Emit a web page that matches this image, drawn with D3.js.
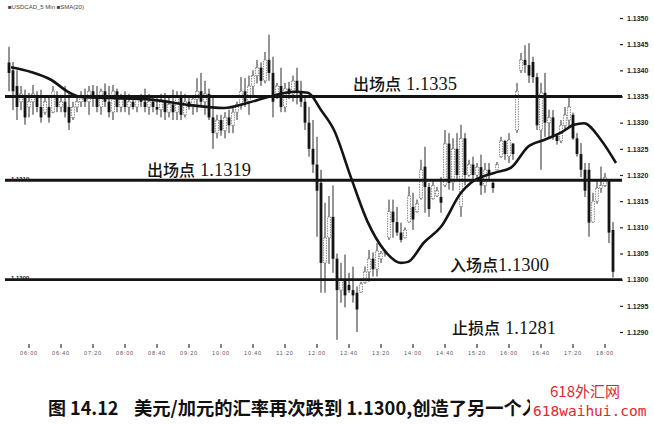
<!DOCTYPE html>
<html><head><meta charset="utf-8">
<script src="https://cdn.jsdelivr.net/npm/d3@7"></script>
<style>body{margin:0;background:#fff}svg{display:block}</style>
</head><body>
<svg id="c" width="654" height="424"></svg>
<script>
const opens=[1.13415,1.1340,1.1337,1.1334,1.1335,1.1333,1.1334,1.1335,1.1333,1.1332,1.1333,1.1332,1.1335,1.1333,1.1334,1.1333,1.1331,1.1333,1.1334,1.1335,
1.1334,1.1336,1.1335,1.1333,1.1336,1.1334,1.1332,1.1336,1.1333,1.13345,1.1333,1.1334,1.1333,1.13345,1.1334,1.1333,1.1334,1.1333,1.13325,1.1334,
1.1332,1.13335,1.1332,1.1335,1.13315,1.1334,1.1333,1.13345,1.1336,1.1334,1.13355,1.1331,1.1328,1.13305,1.13285,1.1331,1.13295,1.1332,1.13335,1.1336,
1.1334,1.1337,1.1339,1.13405,1.1338,1.1342,1.13395,1.1335,1.1337,1.1333,1.13365,1.13355,1.1338,1.1336,1.1334,1.1330,1.1325,1.1322,1.13185,1.13032,
1.1308,1.1312,1.1304,1.1298,1.1300,1.1299,1.1298,1.12975,1.12976,1.12995,1.13015,1.1304,1.1302,1.1304,1.1305,1.1308,1.1313,1.1311,1.1309,1.1308,
1.1311,1.13139,1.1313,1.13155,1.13216,1.13177,1.13155,1.1316,1.13158,1.1318,1.1326,1.13185,1.1325,1.1314,1.1327,1.1320,1.1322,1.1320,1.13215,1.1318,
1.1321,1.13185,1.1321,1.13235,1.13265,1.13235,1.1326,1.13285,1.1340,1.1342,1.1341,1.13416,1.13387,1.13286,1.13357,1.1330,1.1331,1.13275,1.13265,1.13295,
1.13305,1.13315,1.1327,1.1324,1.1321,1.1321,1.1311,1.1315,1.13175,1.1318,1.1319,1.13095];
const highs=[1.13445,1.13416,1.1340,1.1337,1.13363,1.13357,1.13372,1.1336,1.13363,1.13353,1.1335,1.1337,1.1336,1.1335,1.1337,1.13357,1.1334,1.1335,1.1336,1.13365,
1.1337,1.13372,1.1337,1.13365,1.13375,1.1337,1.13372,1.13365,1.13355,1.1336,1.13355,1.1335,1.1335,1.13355,1.13365,1.13355,1.1335,1.1335,1.13355,1.13357,
1.1335,1.13363,1.1336,1.1336,1.13355,1.1335,1.1335,1.13385,1.13395,1.1338,1.13365,1.1335,1.13315,1.13315,1.1332,1.13325,1.1333,1.1334,1.13387,1.13385,
1.1339,1.1340,1.1342,1.13415,1.13435,1.13468,1.13426,1.13376,1.13405,1.13376,1.13378,1.1339,1.13405,1.1338,1.1335,1.1333,1.13305,1.13273,1.1321,1.13147,
1.1316,1.1318,1.1305,1.13032,1.13048,1.13013,1.13025,1.12987,1.12996,1.13025,1.13057,1.13052,1.1307,1.13055,1.13057,1.13153,1.13153,1.13139,1.13109,1.1310,
1.13178,1.13166,1.13153,1.13229,1.13254,1.13185,1.1319,1.13177,1.13196,1.13286,1.1328,1.1327,1.1328,1.13296,1.1328,1.13229,1.13235,1.13223,1.13239,1.13223,
1.13223,1.13188,1.13225,1.13273,1.13267,1.1328,1.13261,1.13376,1.13433,1.13448,1.13452,1.13426,1.13395,1.13376,1.13395,1.13325,1.13324,1.1328,1.13305,1.1333,
1.1335,1.13319,1.1328,1.13261,1.13223,1.13223,1.13166,1.1319,1.13216,1.13204,1.13192,1.1311];
const lows=[1.1336,1.13324,1.13305,1.13324,1.13296,1.1331,1.13315,1.1332,1.1330,1.13315,1.1330,1.13318,1.1332,1.1332,1.1331,1.13286,1.13305,1.1332,1.1333,1.1333,
1.13315,1.1333,1.1332,1.13315,1.1333,1.1331,1.13305,1.1332,1.1332,1.1332,1.13315,1.13325,1.1332,1.1333,1.1332,1.13315,1.1332,1.13315,1.1331,1.13305,
1.1331,1.13305,1.13305,1.13305,1.1331,1.13325,1.13315,1.1332,1.1333,1.13315,1.13305,1.1325,1.1327,1.13275,1.1327,1.1328,1.1328,1.13305,1.13325,1.1333,
1.13315,1.1335,1.13375,1.1337,1.13375,1.1338,1.1331,1.13345,1.1332,1.1332,1.13345,1.1334,1.13335,1.1333,1.13286,1.13235,1.13204,1.13082,1.12975,1.12975,
1.1303,1.13013,1.12885,1.12956,1.12947,1.12975,1.12956,1.1290,1.12975,1.12992,1.12996,1.13006,1.13006,1.13032,1.13044,1.13076,1.1308,1.13084,1.13071,1.13079,
1.13109,1.13095,1.13128,1.13153,1.13128,1.1312,1.13153,1.13158,1.13128,1.13177,1.13172,1.1317,1.1319,1.1312,1.1318,1.13197,1.1319,1.1319,1.13162,1.13166,
1.1319,1.13166,1.13209,1.13233,1.13229,1.13223,1.13229,1.1328,1.13395,1.13395,1.13376,1.13376,1.13286,1.1321,1.13273,1.1327,1.13267,1.13258,1.13261,1.13286,
1.13292,1.13267,1.13235,1.13196,1.13158,1.13082,1.13109,1.13145,1.13166,1.13177,1.1307,1.13004];
const closes=[1.13395,1.1336,1.1333,1.13355,1.1331,1.1334,1.13355,1.1333,1.1331,1.1334,1.1331,1.1336,1.1333,1.1334,1.1332,1.1330,1.1333,1.1334,1.1335,1.1334,
1.1336,1.1335,1.1333,1.1336,1.1334,1.1332,1.1336,1.1333,1.13345,1.1333,1.1334,1.1333,1.13345,1.1334,1.1333,1.1334,1.1333,1.13325,1.1334,1.1332,
1.13335,1.1332,1.1335,1.13315,1.1334,1.1333,1.13345,1.1336,1.1334,1.13355,1.1331,1.1328,1.13305,1.13285,1.1331,1.13295,1.1332,1.13335,1.1336,1.1334,
1.1337,1.1339,1.13405,1.1338,1.1342,1.13395,1.1334,1.1337,1.1333,1.13365,1.13355,1.1338,1.1336,1.1334,1.1330,1.1325,1.1322,1.1317,1.13032,1.1308,
1.1312,1.1304,1.1298,1.1300,1.1297,1.1298,1.1297,1.12943,1.12992,1.13015,1.1304,1.1302,1.13055,1.1305,1.13052,1.1313,1.1311,1.1309,1.13076,1.13095,
1.1316,1.13115,1.13145,1.1321,1.13177,1.13135,1.1318,1.1317,1.13147,1.1326,1.13185,1.1325,1.1320,1.1327,1.1320,1.1322,1.1320,1.13215,1.1318,1.1321,
1.1320,1.13175,1.1322,1.13265,1.1324,1.13267,1.1324,1.1336,1.1342,1.1341,1.1339,1.13387,1.13295,1.13357,1.1330,1.1331,1.13275,1.13265,1.13295,1.13315,
1.1333,1.1327,1.1324,1.1321,1.1317,1.13109,1.1315,1.13175,1.1318,1.13195,1.1309,1.13015];

const maIndex=[0.5,5.5,10.5,14.75,18,25.5,35.5,44.75,53.75,59.75,64.75,71.25,74.75,78,81.25,85.5,89.75,93.75,98,99.75,103.75,108,113,115.5,121.25,125.5,129.75,133.75,138,141.25,143.75,148,151.75];
const maValues=[1.13406,1.13397,1.13382,1.13359,1.13349,1.13347,1.13344,1.13334,1.13328,1.13338,1.13349,1.13359,1.13357,1.13324,1.13286,1.13195,1.13109,1.13057,1.13032,1.13034,1.13071,1.13101,1.13166,1.13185,1.13204,1.13214,1.13254,1.13267,1.13281,1.13296,1.13299,1.13267,1.13223];

const levels=[1.1335,1.1319,1.1300];
const levelNames=["出场点","出场点","入场点","止损点"];
const levelPrices=["1.1335","1.1319","1.1300","1.1281"];
const yTicks=[1.1290,1.1295,1.1300,1.1305,1.1310,1.1315,1.1320,1.1325,1.1330,1.1335,1.1340,1.1345,1.1350];
const tickIndex=[5,13,21,29,37,45,53,61,69,77,85,93,101,109,117,125,133,141,149];
const timeLabels=["06:00","06:40","07:20","08:00","08:40","09:20","10:00","10:40","11:20","12:00","12:40","13:20","14:00","14:40","15:20","16:00","16:40","17:20","18:00"];
const legendText="■USDCAD_5 Min  ■SMA(20)";
const captionFig="图 14.12";
const captionText="美元/加元的汇率再次跌到 1.1300,创造了另一个入";
const watermark1="618外汇网", watermark2="618waihui.com";

const svg=d3.select("#c");
const x=d3.scaleLinear().domain([0,opens.length-1]).range([9,613]);
const y=d3.scaleLinear().domain([1.1290,1.1350]).range([332,18]);
const ink="#141414";

// candles
const idx=d3.range(opens.length);
const g=svg.append("g");
g.selectAll("line.w").data(idx).join("line")
  .attr("x1",i=>x(i)).attr("x2",i=>x(i))
  .attr("y1",i=>y(highs[i])).attr("y2",i=>y(lows[i]))
  .attr("stroke","#2a2a2a").attr("stroke-width",1);
g.selectAll("rect.b").data(idx).join("rect")
  .attr("x",i=>x(i)-1.4).attr("width",2.8)
  .attr("y",i=>y(Math.max(opens[i],closes[i])))
  .attr("height",i=>Math.max(1,Math.abs(y(opens[i])-y(closes[i]))))
  .attr("fill",i=>closes[i]>=opens[i]?"#fff":ink)
  .attr("stroke",i=>closes[i]>=opens[i]?"#555":"none")
  .attr("stroke-width",0.7)
  .attr("stroke-dasharray",i=>closes[i]>=opens[i]?"1.5,1":null);

// level lines
svg.selectAll("line.lvl").data(levels).join("line")
  .attr("x1",5).attr("x2",622)
  .attr("y1",d=>y(d)).attr("y2",d=>y(d))
  .attr("stroke",ink).attr("stroke-width",2.8);

// moving average
const ma=d3.line().x((d,i)=>x(maIndex[i])).y(d=>y(d)).curve(d3.curveMonotoneX);
svg.append("path").attr("d",ma(maValues)).attr("fill","none")
  .attr("stroke",ink).attr("stroke-width",2.6).attr("stroke-linejoin","round");

// right axis
const ax=svg.append("g").attr("transform","translate(620,0)")
  .call(d3.axisRight(y).tickValues(yTicks).tickSize(3).tickFormat(d3.format(".4f")));
ax.select(".domain").remove();
ax.selectAll("line").attr("stroke","#222").attr("stroke-width",1.2);
ax.selectAll("text").attr("x",7).attr("font-family","Liberation Sans, Arial, sans-serif")
  .attr("font-size",7).attr("font-weight","bold").attr("fill","#222");

// bottom time ticks
const bx=svg.append("g");
bx.selectAll("line").data(tickIndex).join("line")
  .attr("x1",d=>x(d)).attr("x2",d=>x(d)).attr("y1",344).attr("y2",348)
  .attr("stroke","#333").attr("stroke-width",1.2);
bx.selectAll("text").data(tickIndex).join("text")
  .attr("x",d=>x(d)).attr("y",355).attr("text-anchor","middle")
  .attr("font-family","Liberation Sans, Arial, sans-serif").attr("font-size",5.5)
  .attr("fill","#555").attr("letter-spacing",0.8).text((d,i)=>timeLabels[i]);

// legend
svg.append("text").attr("x",8).attr("y",9).attr("font-family","Liberation Sans, Arial, sans-serif")
  .attr("font-size",6).attr("fill","#444").text(legendText);

// small left level labels
[[1,181],[2,280]].forEach(([k,yy])=>{
  svg.append("text").attr("x",11).attr("y",yy-0.5).attr("font-family","Liberation Sans, Arial, sans-serif")
    .attr("font-size",6).attr("font-weight","bold").attr("fill","#222").text(levelPrices[k]);
});

// annotation labels
const ann=[[0,353,90,true],[1,147,176,true],[2,450,271,false],[3,452,334,true]];
ann.forEach(([k,ax0,by,sp])=>{
  const t=svg.append("text").attr("x",ax0).attr("y",by).attr("fill",ink);
  t.append("tspan").attr("font-family","Noto Sans CJK SC").attr("font-weight",500).attr("font-size",16).text(levelNames[k]);
  t.append("tspan").attr("font-family","Liberation Serif, serif").attr("font-size",18.5)
    .attr("dx",sp?5:0).text(levelPrices[k]);
});

// caption
svg.append("text").attr("x",48).attr("y",415).attr("font-family","Noto Sans CJK SC")
  .attr("font-weight",700).attr("font-size",18).attr("fill","#111").text(captionFig);
svg.append("text").attr("x",134).attr("y",415).attr("font-family","Noto Sans CJK SC")
  .attr("font-weight",700).attr("font-size",18.3).attr("fill","#111").text(captionText);
svg.append("rect").attr("x",530).attr("y",397).attr("width",124).attr("height",24).attr("fill","#fff");
svg.append("text").attr("x",550).attr("y",397).attr("font-family","Noto Sans CJK SC")
  .attr("font-size",15).attr("fill","#e3262c").text(watermark1);
svg.append("text").attr("x",533).attr("y",416).attr("font-family","DejaVu Sans Mono, monospace")
  .attr("font-size",14.5).attr("fill","#e3262c").text(watermark2);
</script>
</body></html>
